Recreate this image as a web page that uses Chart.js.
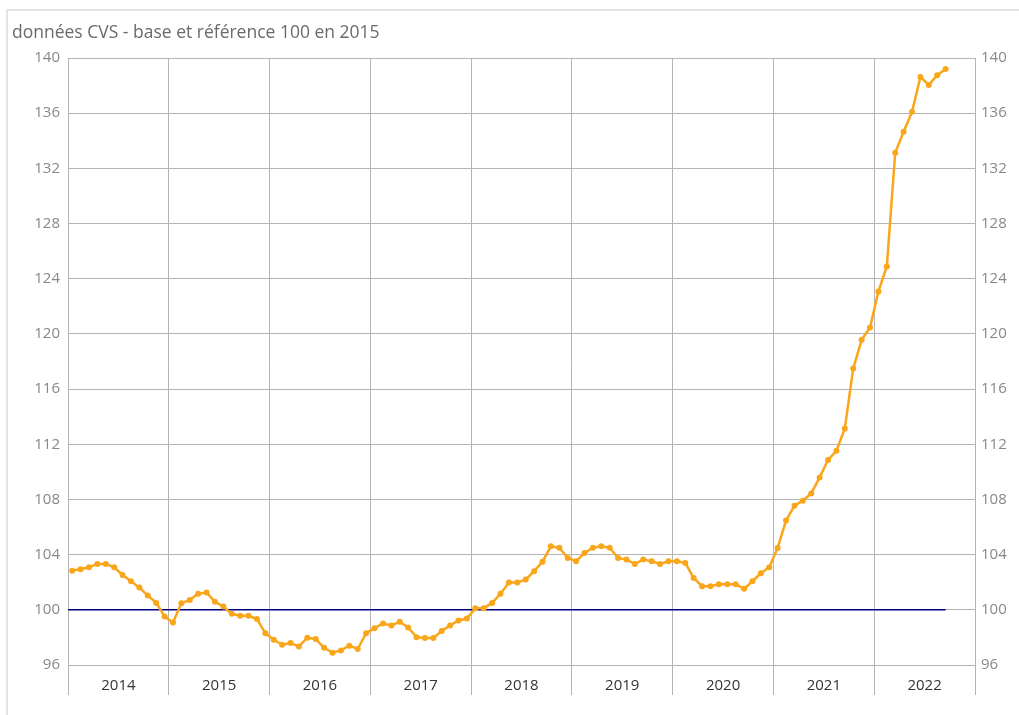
<!DOCTYPE html>
<html lang="fr">
<head>
    <meta charset="UTF-8">
    <script src="https://cdn.jsdelivr.net/npm/chart.js@4.4.1/dist/chart.umd.min.js"></script>
    <title>Indice CVS base 100 en 2015</title>
    <style>
        body { margin: 0; background: #fff; }
        #cadre { position: absolute; left: 6px; top: 9px; width: 1040px; height: 730px; border: 2px solid #e4e4e4; }
        #chart { position: absolute; left: 0; top: 0; }
    </style>
</head>
<body>
    <div id="cadre"></div>
    <canvas id="chart" width="1019" height="715"></canvas>

    <script>
        // années affichées sous l'axe
        const annees = ['2014', '2015', '2016', '2017', '2018', '2019', '2020', '2021', '2022'];

        // valeurs mensuelles, janvier 2014 -> septembre 2022
        const v2014 = [102.84, 102.94, 103.08, 103.33, 103.33, 103.08, 102.53, 102.07, 101.61, 101.04, 100.5, 99.52];
        const v2015 = [99.08, 100.48, 100.72, 101.16, 101.25, 100.58, 100.24, 99.71, 99.57, 99.57, 99.33, 98.31];
        const v2016 = [97.83, 97.47, 97.59, 97.35, 97.98, 97.88, 97.25, 96.89, 97.06, 97.4, 97.16, 98.31];
        const v2017 = [98.67, 99.01, 98.87, 99.13, 98.72, 98.02, 97.95, 97.95, 98.46, 98.87, 99.23, 99.37];
        const v2018 = [100.12, 100.12, 100.5, 101.16, 101.98, 101.98, 102.19, 102.8, 103.49, 104.6, 104.5, 103.76];
        const v2019 = [103.52, 104.12, 104.5, 104.6, 104.5, 103.76, 103.64, 103.33, 103.64, 103.52, 103.33, 103.52];
        const v2020 = [103.52, 103.4, 102.31, 101.71, 101.71, 101.86, 101.86, 101.86, 101.52, 102.07, 102.65, 103.09];
        const v2021 = [104.49, 106.47, 107.55, 107.91, 108.44, 109.6, 110.86, 111.53, 113.15, 117.49, 119.57, 120.46];
        const v2022 = [123.08, 124.89, 133.13, 134.65, 136.1, 138.63, 138.05, 138.75, 139.2];

        const base = 100;
        const yMin = 96, yMax = 140, yPas = 4;

        const valeurs = [].concat(v2014, v2015, v2016, v2017, v2018, v2019, v2020, v2021, v2022);
        // chaque mois au milieu de sa case
        const points = valeurs.map((v, i) => ({ x: i + 0.5, y: v }));
        const finX = annees.length * 12;
        const ligneBase = [{ x: 0, y: base }, { x: valeurs.length - 0.5, y: base }];

        const police = "'Open Sans', 'DejaVu Sans', sans-serif";
        const gris = '#b4b4b4';

        new Chart(document.getElementById('chart'), {
            type: 'line',
            data: {
                datasets: [
                    {
                        data: points,
                        borderColor: '#FAA61A',
                        backgroundColor: '#FAA61A',
                        borderWidth: 2.5,
                        pointRadius: 3,
                        pointHoverRadius: 3,
                        pointBorderWidth: 0,
                        tension: 0,
                        yAxisID: 'y',
                        order: 0
                    },
                    {
                        data: ligneBase,
                        borderColor: '#00007f',
                        borderWidth: 1.5,
                        pointRadius: 0,
                        yAxisID: 'y',
                        order: 1
                    }
                ]
            },
            options: {
                responsive: false,
                animation: false,
                layout: { padding: { left: 12, right: 0, top: 0, bottom: 0 } },
                plugins: {
                    legend: { display: false },
                    tooltip: { enabled: false },
                    title: {
                        display: true,
                        text: 'données CVS - base et référence 100 en 2015',
                        align: 'start',
                        color: '#6a6a6a',
                        font: { family: police, size: 17.5, weight: 'normal' },
                        padding: { top: 23, bottom: 14 }
                    }
                },
                scales: {
                    x: {
                        type: 'linear',
                        min: 0,
                        max: finX,
                        border: { display: false },
                        afterFit: s => { s.height = 50; },
                        ticks: {
                            stepSize: 6,
                            maxTicksLimit: 30,
                            autoSkip: false,
                            maxRotation: 0,
                            padding: -18,
                            color: '#333',
                            font: { family: police, size: 15 },
                            callback: v => (v % 12 === 6 ? annees[(v - 6) / 12] : '')
                        },
                        grid: {
                            tickLength: 30,
                            lineWidth: 1,
                            color: c => (c.tick && c.tick.value % 12 === 0 ? gris : 'transparent'),
                            tickColor: c => (c.tick && c.tick.value % 12 === 0 ? gris : 'transparent')
                        }
                    },
                    y: {
                        position: 'left',
                        min: yMin,
                        max: yMax,
                        afterFit: s => { s.width = 56; },
                        border: { display: true, color: gris },
                        ticks: {
                            stepSize: yPas,
                            padding: 8,
                            color: '#888',
                            font: { family: police, size: 15 }
                        },
                        grid: { color: gris, drawTicks: false }
                    },
                    y2: {
                        position: 'right',
                        min: yMin,
                        max: yMax,
                        afterFit: s => { s.width = 44; },
                        border: { display: true, color: gris },
                        ticks: {
                            stepSize: yPas,
                            padding: 6,
                            color: '#888',
                            font: { family: police, size: 15 }
                        },
                        grid: { display: false, drawTicks: false }
                    }
                }
            }
        });
    </script>
</body>
</html>
